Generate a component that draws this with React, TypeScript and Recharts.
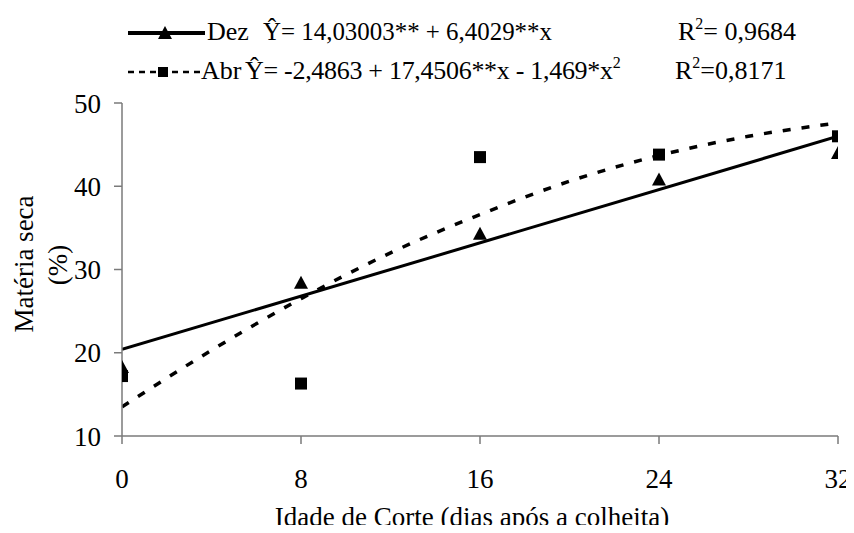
import React from "react";
import {
  ComposedChart,
  Line,
  Scatter,
  XAxis,
  YAxis,
} from "recharts";

// idade de corte (dias após a colheita)
const days = [0, 8, 16, 24, 32];
const xTicks = [0, 8, 16, 24, 32];
const yTicks = [10, 20, 30, 40, 50];

// observed values, matéria seca (%)
const dezObs = [18.3, 28.4, 34.3, 40.8, 44.0];
const abrObs = [17.2, 16.3, 43.5, 43.8, 46.0];

// fitted lines
const dezFitDays = [0, 32];
const dezFit = [20.4, 46.0];
const abrFitDays = [0, 4, 8, 12, 16, 20, 24, 28, 32];
const abrFit = [13.5, 20.3, 26.5, 32.0, 36.6, 40.6, 43.7, 46.0, 47.6];

const FONT = "'Liberation Serif', 'Times New Roman', serif";
const AXIS = "#7a7a7a";

const toPoints = (xs: number[], ys: number[]) =>
  xs.map((x, i) => ({ x, y: ys[i] }));

const dezPoints = toPoints(days, dezObs);
const abrPoints = toPoints(days, abrObs);
const dezLine = toPoints(dezFitDays, dezFit);
const abrLine = toPoints(abrFitDays, abrFit);

const Triangle = (props: any) => {
  const { cx, cy } = props;
  if (cx == null || cy == null) return null;
  return (
    <path
      d={`M${cx},${cy - 7} L${cx + 7},${cy + 6} L${cx - 7},${cy + 6} Z`}
      fill="#000"
    />
  );
};

const Square = (props: any) => {
  const { cx, cy } = props;
  if (cx == null || cy == null) return null;
  return <rect x={cx - 6} y={cy - 6} width={12} height={12} fill="#000" />;
};

const W = 846;
const H = 517;

export default function App() {
  const tick = { fill: "#000", fontSize: 27, fontFamily: FONT };
  return (
    <div style={{ position: "relative", width: W, height: H }}>
      <ComposedChart
        width={W}
        height={H}
        margin={{ top: 95, right: 16, bottom: 0, left: 0 }}
      >
        <XAxis
          type="number"
          dataKey="x"
          domain={[0, 32]}
          ticks={xTicks}
          height={89}
          tick={tick}
          tickSize={8}
          tickMargin={25}
          axisLine={{ stroke: AXIS, strokeWidth: 1.5 }}
          tickLine={{ stroke: AXIS, strokeWidth: 1.5 }}
          allowDataOverflow
        />
        <YAxis
          type="number"
          domain={[10, 50]}
          ticks={yTicks}
          width={114}
          tick={tick}
          tickSize={8}
          tickMargin={13}
          axisLine={{ stroke: AXIS, strokeWidth: 1.5 }}
          tickLine={{ stroke: AXIS, strokeWidth: 1.5 }}
          allowDataOverflow
        />
        <Line
          data={dezLine}
          dataKey="y"
          type="linear"
          stroke="#000"
          strokeWidth={3}
          dot={false}
          isAnimationActive={false}
        />
        <Line
          data={abrLine}
          dataKey="y"
          type="monotone"
          stroke="#000"
          strokeWidth={3.5}
          strokeDasharray="8 11"
          dot={false}
          isAnimationActive={false}
        />
        <Scatter
          data={dezPoints}
          dataKey="y"
          shape={Triangle}
          isAnimationActive={false}
        />
        <Scatter
          data={abrPoints}
          dataKey="y"
          shape={Square}
          isAnimationActive={false}
        />
      </ComposedChart>

      <svg
        width={W}
        height={525}
        style={{ position: "absolute", left: 0, top: 0, pointerEvents: "none" }}
        fontFamily={FONT}
      >
        {/* legend, row 1 */}
        <line x1={120} y1={25} x2={197} y2={25} stroke="#000" strokeWidth={4} />
        <path d="M157,18 L164,31 L150,31 Z" fill="#000" />
        <text x={199} y={32} fontSize={26}>Dez</text>
        <text
          x={255}
          y={32}
          fontSize={26}
          textLength={289}
          lengthAdjust="spacingAndGlyphs"
        >
          Ŷ= 14,03003** + 6,4029**x
        </text>
        <text x={670} y={32} fontSize={26}>
          R<tspan dy={-11} fontSize={16}>2</tspan>
          <tspan dy={11}>= 0,9684</tspan>
        </text>

        {/* legend, row 2 */}
        <line
          x1={120}
          y1={64}
          x2={192}
          y2={64}
          stroke="#000"
          strokeWidth={2.5}
          strokeDasharray="6 5"
        />
        <rect x={150} y={59} width={10} height={10} fill="#000" />
        <text x={193} y={71} fontSize={26}>Abr</text>
        <text x={237} y={71} fontSize={26}>
          <tspan textLength={368} lengthAdjust="spacing">
            Ŷ= -2,4863 + 17,4506**x - 1,469*x
          </tspan>
          <tspan dy={-11} fontSize={16}>2</tspan>
        </text>
        <text x={667} y={71} fontSize={26}>
          R<tspan dy={-11} fontSize={16}>2</tspan>
          <tspan dy={11}>=0,8171</tspan>
        </text>

        {/* axis titles */}
        <text
          x={25}
          y={256}
          fontSize={27}
          textAnchor="middle"
          transform="rotate(-90, 25, 256)"
        >
          Matéria seca
        </text>
        <text
          x={59}
          y={257}
          fontSize={27}
          textAnchor="middle"
          transform="rotate(-90, 59, 257)"
        >
          (%)
        </text>
        <text x={464} y={518} fontSize={27} textAnchor="middle">
          Idade de Corte (dias após a colheita)
        </text>
      </svg>
    </div>
  );
}
